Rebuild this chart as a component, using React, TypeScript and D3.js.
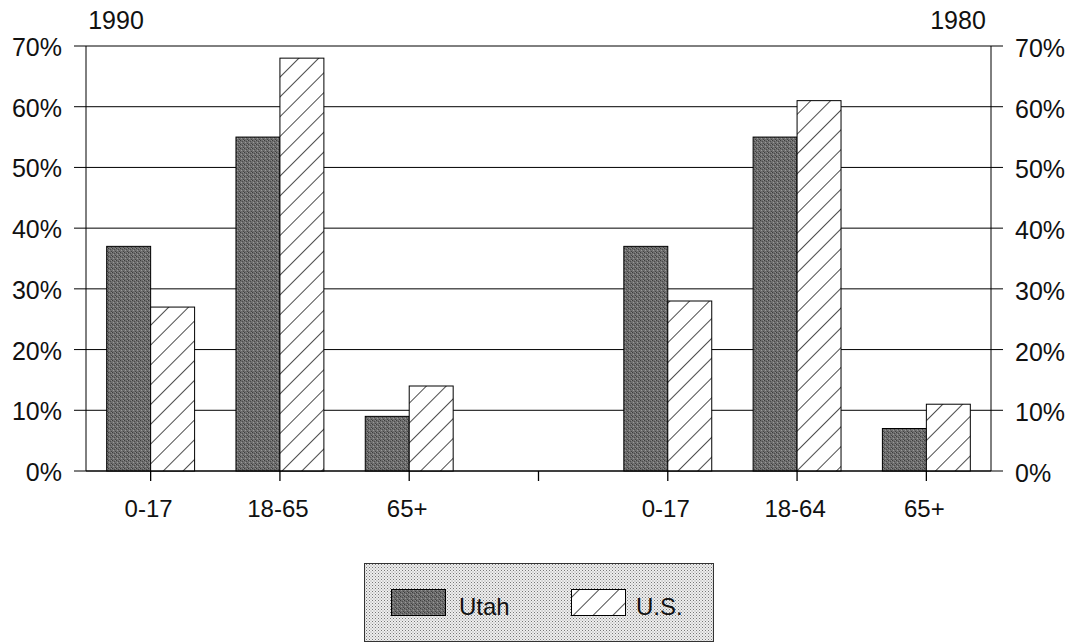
import React from "react";
import * as d3 from "d3";

const slots = ["a", "b", "c", "gap", "d", "e", "f"];
const slotLabels = ["0-17", "18-65", "65+", "", "0-17", "18-64", "65+"];
const utahValues = [37, 55, 9, null, 37, 55, 7];
const usValues = [27, 68, 14, null, 28, 61, 11];
const yTicks = [0, 10, 20, 30, 40, 50, 60, 70];
const yearLabels = ["1990", "1980"];
const seriesNames = ["Utah", "U.S."];

const W = 1073;
const H = 643;
const left = 86;
const right = 991;
const top = 46;
const bottom = 471;
const font = "'Liberation Sans', Arial, Helvetica, sans-serif";

function T({ x, y, anchor = "start", size = 25, children }: { x: number; y: number; anchor?: string; size?: number; children: React.ReactNode }) {
  return (
    <text x={x} y={y} textAnchor={anchor} fontFamily={font} fontSize={size} fill="#111">
      {children}
    </text>
  );
}

export default function App() {
  const x = d3.scaleBand<string>().domain(slots).range([left, right]).padding(0);
  const y = d3.scaleLinear().domain([0, 70]).range([bottom, top]);
  const bw = x.bandwidth() * 0.34;

  return (
    <svg width={W} height={H} style={{ position: "absolute", left: 0, top: 0, background: "#fff" }}>
      <defs>
        <pattern id="dark" width="4" height="4" patternUnits="userSpaceOnUse">
          <rect width="4" height="4" fill="#6e6e6e" />
          <rect x="0" y="0" width="1" height="1" fill="#3c3c3c" />
          <rect x="2" y="1" width="1" height="1" fill="#4a4a4a" />
          <rect x="1" y="2" width="1" height="1" fill="#999" />
          <rect x="3" y="3" width="1" height="1" fill="#444" />
          <rect x="3" y="0" width="1" height="1" fill="#8a8a8a" />
        </pattern>
        <pattern id="hatch" width="14" height="14" patternUnits="userSpaceOnUse" patternTransform="rotate(45)">
          <rect width="14" height="14" fill="#fff" />
          <line x1="0" y1="0" x2="0" y2="14" stroke="#000" strokeWidth="1.4" />
        </pattern>
        <pattern id="dots" width="3" height="3" patternUnits="userSpaceOnUse">
          <rect width="3" height="3" fill="#eeeeee" />
          <rect x="0" y="0" width="1" height="1" fill="#777" />
          <rect x="1.5" y="1.5" width="1" height="1" fill="#999" />
        </pattern>
      </defs>

      {/* gridlines */}
      {yTicks.map((t) => (
        <line key={"g" + t} x1={left} x2={right} y1={y(t)} y2={y(t)} stroke="#000" strokeWidth={1} />
      ))}
      {/* axes */}
      <line x1={left} x2={left} y1={top} y2={bottom} stroke="#000" />
      <line x1={right} x2={right} y1={top} y2={bottom} stroke="#000" />
      {yTicks.map((t) => (
        <g key={"t" + t}>
          <line x1={left - 12} x2={left} y1={y(t)} y2={y(t)} stroke="#000" />
          <line x1={right} x2={right + 12} y1={y(t)} y2={y(t)} stroke="#000" />
          <T x={62} y={y(t) + 10} anchor="end">{t}%</T>
          <T x={1015} y={y(t) + 11}>{t}%</T>
        </g>
      ))}
      <T x={116} y={29} anchor="middle">{yearLabels[0]}</T>
      <T x={958} y={29} anchor="middle">{yearLabels[1]}</T>

      {/* bars */}
      {slots.map((s, i) => {
        const cx = (x(s) as number) + x.bandwidth() / 2;
        const u = utahValues[i];
        const v = usValues[i];
        return (
          <g key={s}>
            {u != null && (
              <rect x={cx - bw} y={y(u)} width={bw} height={bottom - y(u)} fill="url(#dark)" stroke="#000" strokeWidth={1} />
            )}
            {v != null && (
              <rect x={cx} y={y(v)} width={bw} height={bottom - y(v)} fill="url(#hatch)" stroke="#000" strokeWidth={1} />
            )}
          </g>
        );
      })}

      {/* x axis */}
      <line x1={left} x2={right} y1={bottom} y2={bottom} stroke="#000" />
      {slots.map((s, i) => {
        const cx = (x(s) as number) + x.bandwidth() / 2;
        return (
          <g key={"x" + s}>
            <line x1={cx} x2={cx} y1={bottom} y2={bottom + 10} stroke="#000" strokeWidth={1.3} />
            <T x={cx - 2} y={517} anchor="middle" size={24}>{slotLabels[i]}</T>
          </g>
        );
      })}

      {/* legend */}
      <rect x={364.5} y={563.5} width={349} height={78} fill="url(#dots)" stroke="#333" />
      <rect x={391.5} y={589.5} width={54} height={26} fill="url(#dark)" stroke="#000" />
      <T x={459} y={615} size={24}>{seriesNames[0]}</T>
      <rect x={571.5} y={589.5} width={54} height={26} fill="url(#hatch)" stroke="#000" />
      <T x={636} y={615} size={24}>{seriesNames[1]}</T>
    </svg>
  );
}
